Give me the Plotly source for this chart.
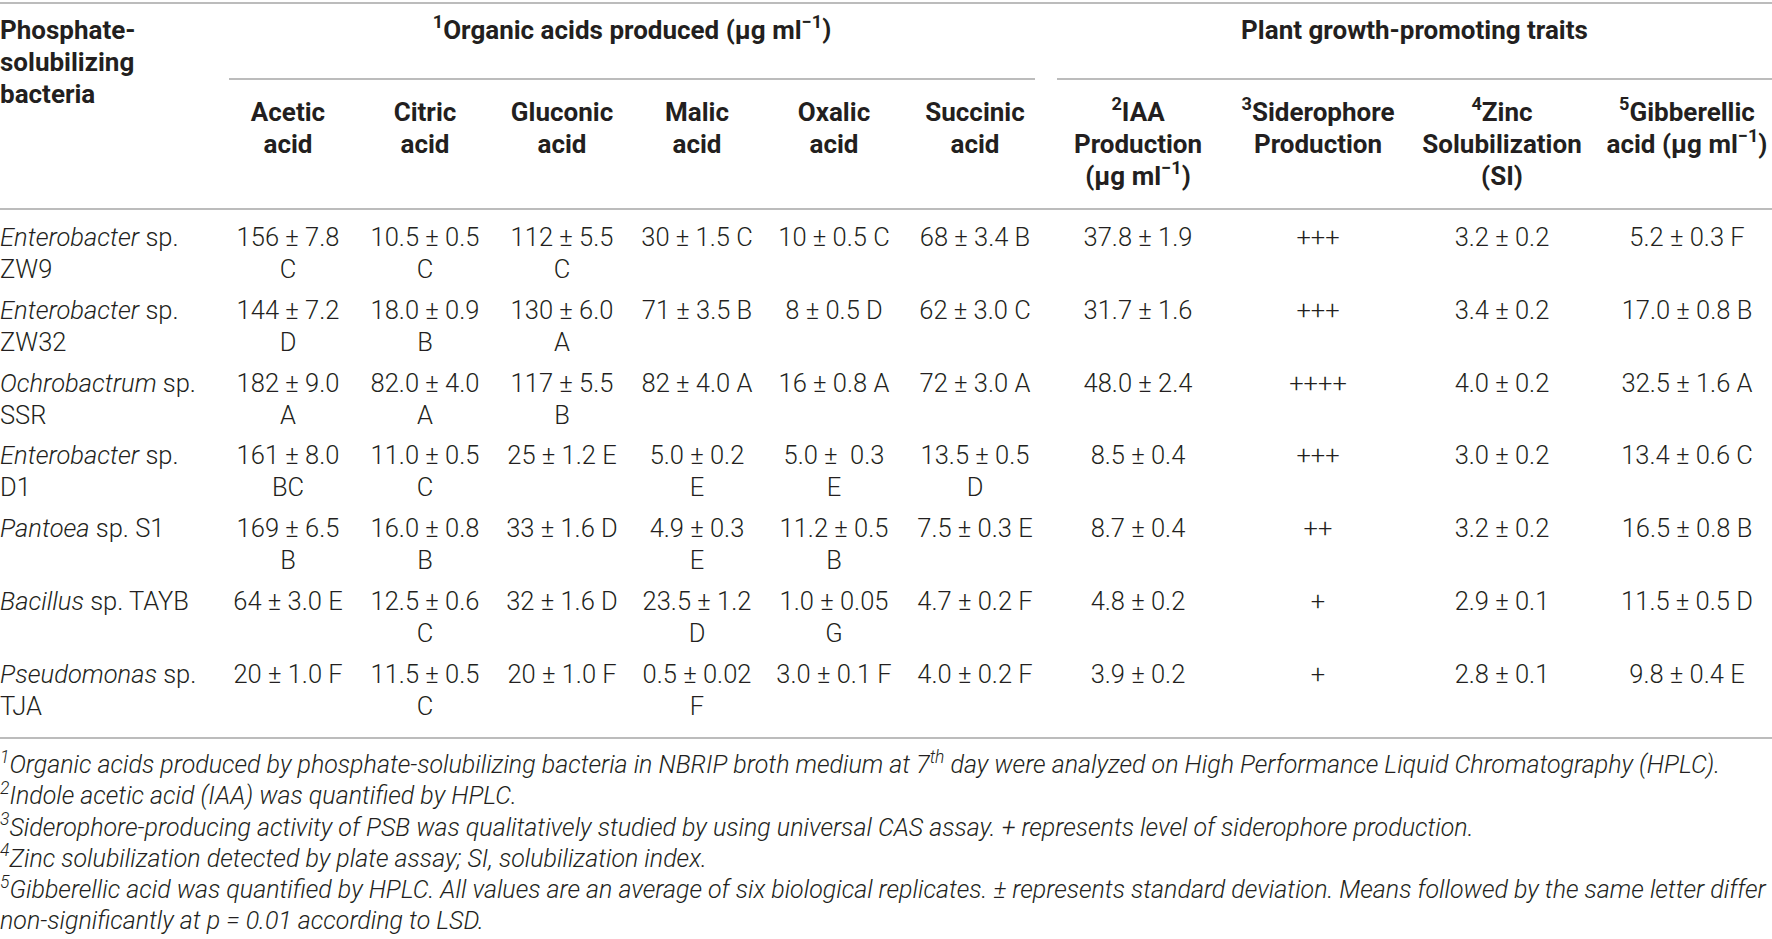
import plotly.graph_objects as go

# ---- table content ----
bacteria = [
    "<i>Enterobacter</i> sp.<br>ZW9",
    "<i>Enterobacter</i> sp.<br>ZW32",
    "<i>Ochrobactrum</i> sp.<br>SSR",
    "<i>Enterobacter</i> sp.<br>D1",
    "<i>Pantoea</i> sp. S1",
    "<i>Bacillus</i> sp. TAYB",
    "<i>Pseudomonas</i> sp.<br>TJA",
]

acetic = ["156 ± 7.8<br>C", "144 ± 7.2<br>D", "182 ± 9.0<br>A", "161 ± 8.0<br>BC",
          "169 ± 6.5<br>B", "64 ± 3.0 E", "20 ± 1.0 F"]
citric = ["10.5 ± 0.5<br>C", "18.0 ± 0.9<br>B", "82.0 ± 4.0<br>A", "11.0 ± 0.5<br>C",
          "16.0 ± 0.8<br>B", "12.5 ± 0.6<br>C", "11.5 ± 0.5<br>C"]
gluconic = ["112 ± 5.5<br>C", "130 ± 6.0<br>A", "117 ± 5.5<br>B", "25 ± 1.2 E",
            "33 ± 1.6 D", "32 ± 1.6 D", "20 ± 1.0 F"]
malic = ["30 ± 1.5 C", "71 ± 3.5 B", "82 ± 4.0 A", "5.0 ± 0.2<br>E",
         "4.9 ± 0.3<br>E", "23.5 ± 1.2<br>D", "0.5 ± 0.02<br>F"]
oxalic = ["10 ± 0.5 C", "8 ± 0.5 D", "16 ± 0.8 A", "5.0 ±\u00a0 0.3<br>E",
          "11.2 ± 0.5<br>B", "1.0 ± 0.05<br>G", "3.0 ± 0.1 F"]
succinic = ["68 ± 3.4 B", "62 ± 3.0 C", "72 ± 3.0 A", "13.5 ± 0.5<br>D",
            "7.5 ± 0.3 E", "4.7 ± 0.2 F", "4.0 ± 0.2 F"]
iaa = ["37.8 ± 1.9", "31.7 ± 1.6", "48.0 ± 2.4", "8.5 ± 0.4", "8.7 ± 0.4", "4.8 ± 0.2", "3.9 ± 0.2"]
siderophore = ["+++", "+++", "++++", "+++", "++", "+", "+"]
zinc = ["3.2 ± 0.2", "3.4 ± 0.2", "4.0 ± 0.2", "3.0 ± 0.2", "3.2 ± 0.2", "2.9 ± 0.1", "2.8 ± 0.1"]
gibberellic = ["5.2 ± 0.3 F", "17.0 ± 0.8 B", "32.5 ± 1.6 A", "13.4 ± 0.6 C",
               "16.5 ± 0.8 B", "11.5 ± 0.5 D", "9.8 ± 0.4 E"]

columns = [acetic, citric, gluconic, malic, oxalic, succinic, iaa, siderophore, zinc, gibberellic]

col_headers = [
    "Acetic<br>acid", "Citric<br>acid", "Gluconic<br>acid", "Malic<br>acid", "Oxalic<br>acid",
    "Succinic<br>acid", "<sup>2</sup>IAA<br>Production<br>(μg ml<sup>−1</sup>)",
    "<sup>3</sup>Siderophore<br>Production", "<sup>4</sup>Zinc<br>Solubilization<br>(SI)",
    "<sup>5</sup>Gibberellic<br>acid (μg ml<sup>−1</sup>)",
]
stub_header = "Phosphate-<br>solubilizing<br>bacteria"
group_headers = ["<sup>1</sup>Organic acids produced (μg ml<sup>−1</sup>)", "Plant growth-promoting traits"]

footnotes = [
    "<sup>1</sup>Organic acids produced by phosphate-solubilizing bacteria in NBRIP broth medium at 7<sup>th</sup> day were analyzed on High Performance Liquid Chromatography (HPLC).",
    "<sup>2</sup>Indole acetic acid (IAA) was quantified by HPLC.",
    "<sup>3</sup>Siderophore-producing activity of PSB was qualitatively studied by using universal CAS assay. + represents level of siderophore production.",
    "<sup>4</sup>Zinc solubilization detected by plate assay; SI, solubilization index.",
    "<sup>5</sup>Gibberellic acid was quantified by HPLC. All values are an average of six biological replicates. ± represents standard deviation. Means followed by the same letter differ",
    "non-significantly at <i>p</i> = 0.01 according to LSD.",
]

# ---- layout (pixels) ----
W, H = 1772, 939
col_x = [288, 425, 562, 697, 834, 975, 1138, 1318, 1502, 1687]
group_spans = [(229, 1035), (1057, 1772)]
stub_x = 0
head_y0 = 32
sub_y0 = 114
row_y0 = 240
row_pitch = 72.7
line_h = 32
foot_y0 = 767
foot_h = 31.2
rule_y = {"top": 3, "group": 79, "head": 209, "bottom": 738}

TXT = "#231f20"
RULE = "#bcbcbc"
body_font = dict(family="Roboto", size=25.5, color=TXT, weight=300)
head_font = dict(family="Roboto", size=26, color=TXT, weight=700)
foot_font = dict(family="Roboto", size=25, color=TXT, weight=300, style="italic")


def split_lines(cells, x, y_top):
    xs, ys, ts = [], [], []
    for cell, yt in zip(cells, y_top):
        for k, part in enumerate(cell.split("<br>")):
            xs.append(x)
            ys.append(yt + k * line_h)
            ts.append(part)
    return xs, ys, ts


fig = go.Figure()


def add_text(xs, ys, ts, font, pos):
    fig.add_trace(go.Scatter(
        x=xs, y=ys, text=ts, mode="text", textposition=pos,
        textfont=font, hoverinfo="skip", showlegend=False, cliponaxis=False,
    ))


row_tops = [row_y0 + i * row_pitch for i in range(len(bacteria))]

# stub column
add_text(*split_lines([stub_header], stub_x, [head_y0]), head_font, "middle right")
add_text(*split_lines(bacteria, stub_x, row_tops), body_font, "middle right")

# group headers
gx = [(a + b) / 2 for a, b in group_spans]
add_text(gx, [head_y0] * 2, group_headers, head_font, "middle center")

# column headers + body
for x, head, cells in zip(col_x, col_headers, columns):
    add_text(*split_lines([head], x, [sub_y0]), head_font, "middle center")
    add_text(*split_lines(cells, x, row_tops), body_font, "middle center")

# footnotes
add_text([stub_x] * len(footnotes), [foot_y0 + i * foot_h for i in range(len(footnotes))],
         footnotes, foot_font, "middle right")

# rules
shapes = []
for key in ["top", "head", "bottom"]:
    shapes.append(dict(type="line", x0=0, x1=W, y0=rule_y[key], y1=rule_y[key],
                       xref="x", yref="y", line=dict(color=RULE, width=2)))
for a, b in group_spans:
    shapes.append(dict(type="line", x0=a, x1=b, y0=rule_y["group"], y1=rule_y["group"],
                       xref="x", yref="y", line=dict(color=RULE, width=2)))

fig.update_layout(
    width=W, height=H,
    margin=dict(l=0, r=0, t=0, b=0),
    paper_bgcolor="white", plot_bgcolor="white",
    xaxis=dict(range=[0, W], visible=False, fixedrange=True),
    yaxis=dict(range=[H, 0], visible=False, fixedrange=True),
    shapes=shapes,
)

fig.write_html("out.html", config={"displayModeBar": False},
               post_script="document.body.style.margin='0';document.body.style.overflow='hidden';")
